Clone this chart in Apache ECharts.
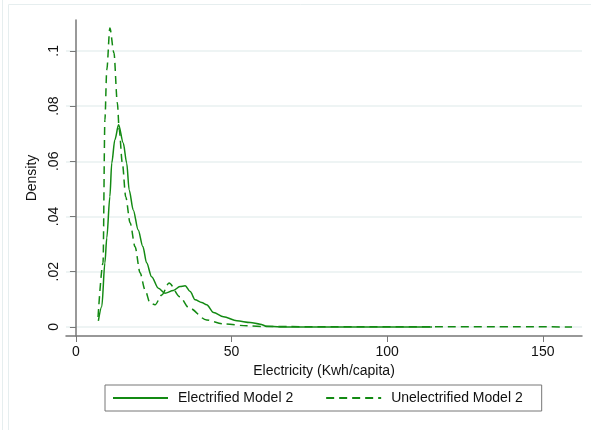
<!DOCTYPE html>
<html>
<head>
<meta charset="utf-8">
<script src="https://cdn.jsdelivr.net/npm/echarts@6/dist/echarts.min.js"></script>
<style>
  html, body { margin: 0; padding: 0; background: #fff; }
  #main { width: 591px; height: 430px; }
</style>
</head>
<body>
<div id="main"></div>
<script>
// kernel density
const elecX = [7.2, 8.3, 9.3, 9.9, 10.9, 11.5, 12.5, 13.7, 15.2, 16.3, 17.1, 18.4, 20.0, 21.5, 22.7, 24.3, 26.5, 28.6, 31.3, 33.4, 35.1, 36.7, 38.3, 40.4, 42.0, 44.2, 47.4, 51.7, 56.0, 59.2, 61.3, 65.6, 114.4];
const elecY = [0.0022, 0.0074, 0.0232, 0.0322, 0.0472, 0.0594, 0.0678, 0.0732, 0.0666, 0.0594, 0.0496, 0.0424, 0.0351, 0.0291, 0.0232, 0.0182, 0.0140, 0.0122, 0.0132, 0.0146, 0.0149, 0.0128, 0.0098, 0.0088, 0.0080, 0.0052, 0.0037, 0.0022, 0.0016, 0.0010, 0.0002, 0, 0];

const unelecX = [7.1, 8.7, 9.3, 9.9, 10.9, 12.2, 13.3, 13.9, 14.9, 16.0, 17.4, 19.0, 20.6, 22.2, 23.8, 25.4, 27.6, 29.9, 33.4, 36.3, 42.0, 47.3, 54.9, 61.3, 159.4];
const unelecY = [0.0036, 0.0232, 0.0750, 0.0931, 0.1083, 0.0993, 0.0812, 0.0714, 0.0594, 0.0471, 0.0377, 0.0290, 0.0196, 0.0134, 0.0087, 0.0080, 0.0116, 0.0159, 0.0109, 0.0069, 0.0025, 0.0011, 0.0004, 0.0001, 0];

const xTicks = [0, 50, 100, 150];
const yTicks = [0, 0.02, 0.04, 0.06, 0.08, 0.1];

const GREEN = '#138a13';
const FONT = 'Liberation Sans, Arial, sans-serif';

const zip = (xs, ys) => xs.map((x, i) => [x, ys[i]]);

const chart = echarts.init(document.getElementById('main'), null, { renderer: 'canvas' });

chart.setOption({
    backgroundColor: '#fff',
    animation: false,
    textStyle: { fontFamily: FONT },
    graphic: [
        { type: 'line', shape: { x1: 2.5, y1: 0, x2: 2.5, y2: 430 }, style: { stroke: '#e6eeef', lineWidth: 1 } },
        { type: 'rect', shape: { x: 8.5, y: 4.5, width: 600, height: 440 }, style: { fill: null, stroke: '#e6eeef', lineWidth: 1 } }
    ],
    grid: { left: 66, right: 9, top: 20, bottom: 94 },
    legend: {
        left: 105, top: 385,
        width: 437,
        padding: [6, 19, 6, 7],
        borderColor: '#777', borderWidth: 1,
        itemWidth: 55, itemHeight: 12, itemGap: 32,
        itemStyle: { opacity: 0 },
        textStyle: { fontSize: 14, color: '#111', fontFamily: FONT, padding: [0, 0, 0, 5] },
        data: ['Electrified Model 2', 'Unelectrified Model 2']
    },
    xAxis: {
        type: 'value',
        min: -3.2, max: 162.6,
        name: 'Electricity (Kwh/capita)',
        nameLocation: 'middle',
        nameGap: 27,
        nameTextStyle: { fontSize: 14, color: '#111', fontFamily: FONT },
        axisLine: { onZero: false, lineStyle: { color: '#777', width: 1.5 } },
        axisTick: { customValues: xTicks, length: 6, lineStyle: { color: '#777', width: 1 } },
        axisLabel: { customValues: xTicks, fontSize: 14, color: '#111', margin: 9, fontFamily: FONT },
        splitLine: { show: false }
    },
    yAxis: {
        type: 'value',
        min: -0.0033, max: 0.1112,
        name: 'Density',
        nameLocation: 'middle',
        nameGap: 22,
        nameTextStyle: { fontSize: 14, color: '#111', fontFamily: FONT },
        axisLine: { show: true, lineStyle: { color: '#777', width: 1.5 } },
        axisTick: { show: true, customValues: yTicks, length: 6, lineStyle: { color: '#777', width: 1 } },
        axisLabel: {
            customValues: yTicks, rotate: 90, fontSize: 14, color: '#111', margin: 5, fontFamily: FONT,
            formatter: v => v === 0 ? '0' : String(+v.toFixed(2)).replace(/^0/, '')
        },
        splitLine: { show: true, lineStyle: { color: '#e8f0f0', width: 1.5 } }
    },
    series: [
        {
            name: 'Electrified Model 2',
            type: 'line',
            data: zip(elecX, elecY),
            symbol: 'none',
            smooth: 0.3,
            smoothMonotone: 'x',
            lineStyle: { color: GREEN, width: 1.5 },
            itemStyle: { color: GREEN }
        },
        {
            name: 'Unelectrified Model 2',
            type: 'line',
            data: zip(unelecX, unelecY),
            symbol: 'none',
            smooth: 0.3,
            smoothMonotone: 'x',
            lineStyle: { color: GREEN, width: 1.5, type: [8, 5] },
            itemStyle: { color: GREEN }
        }
    ]
});
</script>
</body>
</html>
